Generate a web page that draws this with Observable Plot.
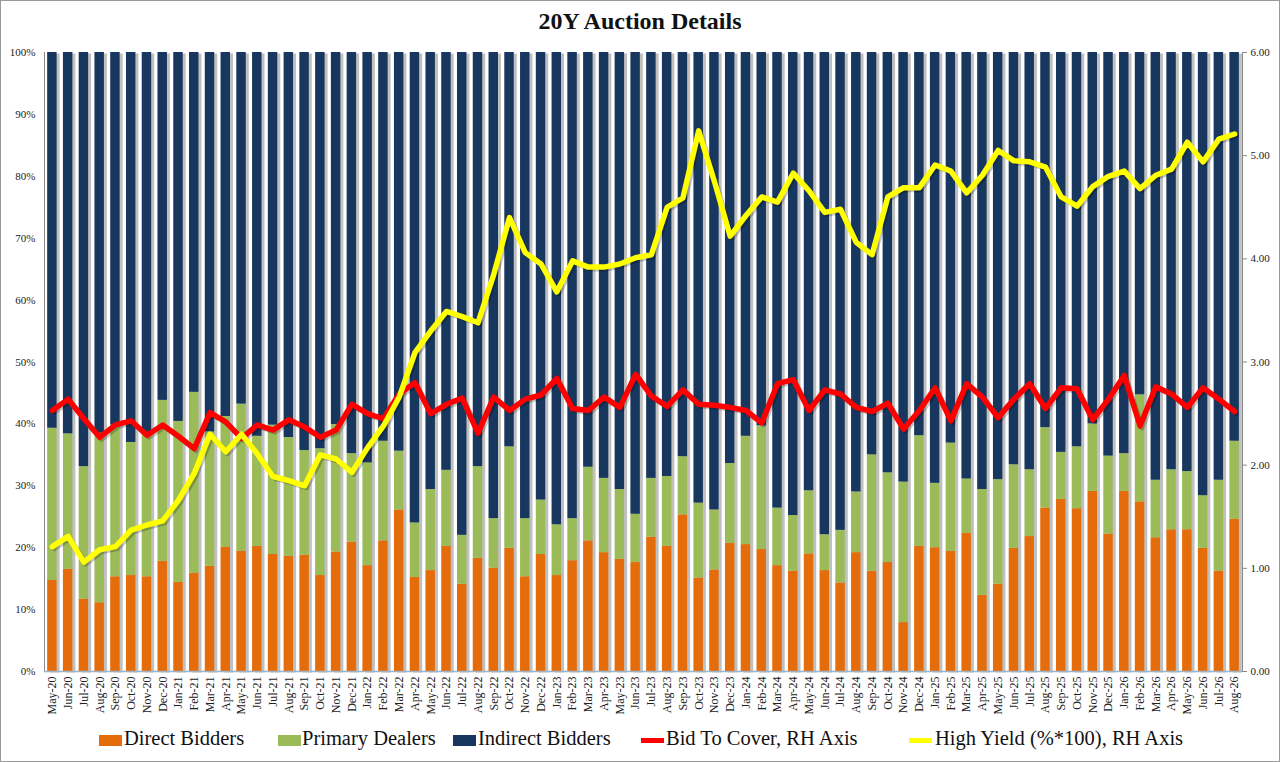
<!DOCTYPE html>
<html>
<head>
<meta charset="utf-8">
<script src="https://cdn.jsdelivr.net/npm/d3@7"></script>
<script src="https://cdn.jsdelivr.net/npm/@observablehq/plot@0.6"></script>
<style>
  html, body { margin: 0; padding: 0; background: #fff; }
  #wrap { position: relative; width: 1280px; height: 762px; overflow: hidden; font-family: "Liberation Serif", "Times New Roman", serif; }
  #border { position: absolute; left: 0; top: 0; width: 1280px; height: 762px; box-sizing: border-box; border: 1px solid #9a9a9a; pointer-events: none; }
  #title { position: absolute; top: 8px; left: 0; width: 1280px; text-align: center; font-weight: bold; font-size: 24px; line-height: 26px; color: #111; }
  #chart { position: absolute; left: 0; top: 40px; }
  .lg { position: absolute; top: 728px; font-size: 20.5px; line-height: 20px; color: #111; white-space: nowrap; }
  .sw { position: absolute; }
</style>
</head>
<body>
<div id="wrap">
  <div id="title">20Y Auction Details</div>
  <div id="chart"></div>
  <div id="legend"></div>
  <div id="border"></div>
</div>
<script>
const months = [
  "May-20","Jun-20","Jul-20","Aug-20","Sep-20","Oct-20","Nov-20","Dec-20",
  "Jan-21","Feb-21","Mar-21","Apr-21","May-21","Jun-21","Jul-21","Aug-21","Sep-21","Oct-21","Nov-21","Dec-21",
  "Jan-22","Feb-22","Mar-22","Apr-22","May-22","Jun-22","Jul-22","Aug-22","Sep-22","Oct-22","Nov-22","Dec-22",
  "Jan-23","Feb-23","Mar-23","Apr-23","May-23","Jun-23","Jul-23","Aug-23","Sep-23","Oct-23","Nov-23","Dec-23",
  "Jan-24","Feb-24","Mar-24","Apr-24","May-24","Jun-24","Jul-24","Aug-24","Sep-24","Oct-24","Nov-24","Dec-24",
  "Jan-25","Feb-25","Mar-25","Apr-25","May-25","Jun-25","Jul-25","Aug-25","Sep-25","Oct-25","Nov-25","Dec-25",
  "Jan-26","Feb-26","Mar-26","Apr-26","May-26","Jun-26","Jul-26","Aug-26"
];

const directBidders = [
  14.7,16.5,11.7,11.1,15.3,15.5,15.3,17.8,
  14.4,15.9,17.0,20.1,19.4,20.2,18.9,18.6,18.8,15.5,19.3,20.9,
  17.1,21.1,26.1,15.2,16.3,20.2,14.1,18.3,16.7,19.9,15.3,18.9,
  15.5,17.9,21.1,19.2,18.1,17.6,21.7,20.2,25.3,15.1,16.4,20.7,
  20.5,19.7,17.1,16.2,19.0,16.3,14.3,19.2,16.2,17.6,7.9,20.2,
  20.0,19.4,22.3,12.3,14.1,19.9,21.8,26.4,27.8,26.3,29.1,22.2,
  29.1,27.4,21.6,22.9,22.9,19.9,16.2,24.6
];

const primaryDealers = [
  24.6,21.9,21.4,27.4,24.5,21.5,23.1,26.0,
  26.0,29.2,21.7,21.1,23.8,17.8,20.9,19.2,16.9,20.5,20.6,14.3,
  16.6,16.1,9.5,8.8,13.1,12.3,7.9,14.8,8.0,16.4,9.4,8.8,
  8.2,6.8,11.9,12.0,11.3,7.8,9.5,11.3,9.4,12.1,9.7,12.9,
  17.5,20.0,9.3,9.0,10.2,5.8,8.5,9.8,18.8,14.5,22.7,17.9,
  10.4,17.5,8.8,17.1,16.9,13.5,10.8,13.0,7.6,10.0,10.9,12.6,
  6.1,17.3,9.3,9.7,9.4,8.5,14.7,12.6
];

const indirectBidders = [
  60.7,61.6,66.9,61.5,60.2,63.0,61.6,56.2,
  59.6,54.9,61.3,58.8,56.8,62.0,60.2,62.2,64.3,64.0,60.1,64.8,
  66.3,62.8,64.4,76.0,70.6,67.5,78.0,66.9,75.3,63.7,75.3,72.3,
  76.3,75.3,67.0,68.8,70.6,74.6,68.8,68.5,65.3,72.8,73.9,66.4,
  62.0,60.3,73.6,74.8,70.8,77.9,77.2,71.0,65.0,67.9,69.4,61.9,
  69.6,63.1,68.9,70.6,69.0,66.6,67.4,60.6,64.6,63.7,60.0,65.2,
  64.8,55.3,69.1,67.4,67.7,71.6,69.1,62.8
];

const bidToCover = [
  2.53,2.64,2.45,2.27,2.39,2.43,2.29,2.39,
  2.28,2.16,2.51,2.42,2.26,2.39,2.34,2.44,2.37,2.27,2.34,2.59,
  2.50,2.45,2.69,2.80,2.50,2.59,2.65,2.31,2.66,2.53,2.64,2.68,
  2.84,2.55,2.53,2.66,2.56,2.88,2.67,2.57,2.73,2.59,2.58,2.56,
  2.53,2.41,2.79,2.83,2.53,2.73,2.69,2.56,2.52,2.60,2.35,2.53,
  2.75,2.43,2.79,2.66,2.46,2.64,2.79,2.55,2.75,2.74,2.44,2.64,
  2.87,2.38,2.76,2.69,2.56,2.75,2.64,2.52
];

const highYield = [
  1.21,1.31,1.06,1.18,1.21,1.37,1.42,1.46,
  1.66,1.92,2.30,2.13,2.30,2.11,1.89,1.85,1.80,2.10,2.06,1.93,
  2.17,2.38,2.66,3.09,3.30,3.49,3.44,3.38,3.85,4.40,4.06,3.95,
  3.68,3.98,3.92,3.92,3.95,4.01,4.04,4.50,4.59,5.24,4.75,4.22,
  4.42,4.60,4.55,4.83,4.66,4.45,4.48,4.16,4.04,4.60,4.69,4.69,
  4.91,4.85,4.64,4.81,5.05,4.95,4.94,4.89,4.60,4.51,4.70,4.80,
  4.85,4.68,4.81,4.87,5.13,4.94,5.16,5.21
];

const seriesNames = ["Direct Bidders","Primary Dealers","Indirect Bidders"];
const seriesColors = ["#E46C0A","#9BBB59","#17375E"];
const leftTicks = [0,10,20,30,40,50,60,70,80,90,100];
const rightTicks = [0,1,2,3,4,5,6];
const rightMax = 6;

const shares = [directBidders, primaryDealers, indirectBidders];
const rows = months.flatMap((m, i) => seriesNames.map((s, k) => ({month: m, series: s, value: shares[k][i]})));
const lineRows = months.map((m, i) => ({month: m, btc: bidToCover[i], hy: highYield[i]}));
const toLeft = v => v / rightMax * 100;

const chart = Plot.plot({
  width: 1280,
  height: 681,
  marginTop: 12,
  marginBottom: 50,
  marginLeft: 44,
  marginRight: 38,
  style: {fontFamily: "'Liberation Serif', 'Times New Roman', serif", fontSize: "11px", color: "#222", background: "transparent"},
  x: {type: "band", domain: months, paddingInner: 0.4, paddingOuter: 0.2, label: null},
  y: {domain: [0, 100], label: null},
  color: {domain: seriesNames, range: seriesColors},
  marks: [
    Plot.barY(months, {x: d => d, y: () => 100, fill: "#8c8c8c", fillOpacity: 0.55, dx: 3, dy: 1.5}),
    Plot.barY(rows, {x: "month", y: "value", fill: "series"}),
    Plot.axisY(leftTicks, {anchor: "left", tickFormat: d => d + "%", tickSize: 0, tickPadding: 9, label: null, fontSize: 11}),
    Plot.axisY(rightTicks.map(toLeft), {anchor: "right", tickFormat: d => (d * rightMax / 100).toFixed(2), tickSize: 4, tickPadding: 4, label: null, fontSize: 11, stroke: "#888"}),
    Plot.axisX({tickRotate: -90, tickSize: 0, tickPadding: 5, label: null, fontSize: 12}),
    Plot.frame({anchor: "left", stroke: "#8a8a8a"}),
    Plot.frame({anchor: "right", stroke: "#8a8a8a"}),
    Plot.ruleY([0], {stroke: "#9fb3c8", strokeWidth: 1.5}),
    Plot.line(lineRows, {x: "month", y: d => toLeft(d.btc), stroke: "#000", strokeOpacity: 0.22, strokeWidth: 5, dx: 2, dy: 2, strokeLinejoin: "round"}),
    Plot.line(lineRows, {x: "month", y: d => toLeft(d.hy), stroke: "#000", strokeOpacity: 0.22, strokeWidth: 5, dx: 2, dy: 2, strokeLinejoin: "round"}),
    Plot.line(lineRows, {x: "month", y: d => toLeft(d.btc), stroke: "#FF0000", strokeWidth: 5.5, strokeLinejoin: "round"}),
    Plot.line(lineRows, {x: "month", y: d => toLeft(d.hy), stroke: "#FFFF00", strokeWidth: 5.5, strokeLinejoin: "round"})
  ]
});
document.getElementById("chart").appendChild(chart);

const legendItems = [
  {label: "Direct Bidders", color: "#E46C0A", kind: "box", sx: 99, tx: 124},
  {label: "Primary Dealers", color: "#9BBB59", kind: "box", sx: 278, tx: 302},
  {label: "Indirect Bidders", color: "#17375E", kind: "box", sx: 453, tx: 478},
  {label: "Bid To Cover, RH Axis", color: "#FF0000", kind: "line", sx: 641, tx: 666},
  {label: "High Yield (%*100), RH Axis", color: "#FFFF00", kind: "line", sx: 909, tx: 935}
];
const lg = document.getElementById("legend");
for (const it of legendItems) {
  const sw = document.createElement("div");
  sw.className = "sw";
  sw.style.left = it.sx + "px";
  sw.style.width = "23px";
  sw.style.background = it.color;
  if (it.kind === "box") { sw.style.top = "735px"; sw.style.height = "11px"; }
  else { sw.style.top = "738px"; sw.style.height = "5px"; }
  lg.appendChild(sw);
  const t = document.createElement("div");
  t.className = "lg";
  t.style.left = it.tx + "px";
  t.textContent = it.label;
  lg.appendChild(t);
}
</script>
</body>
</html>
